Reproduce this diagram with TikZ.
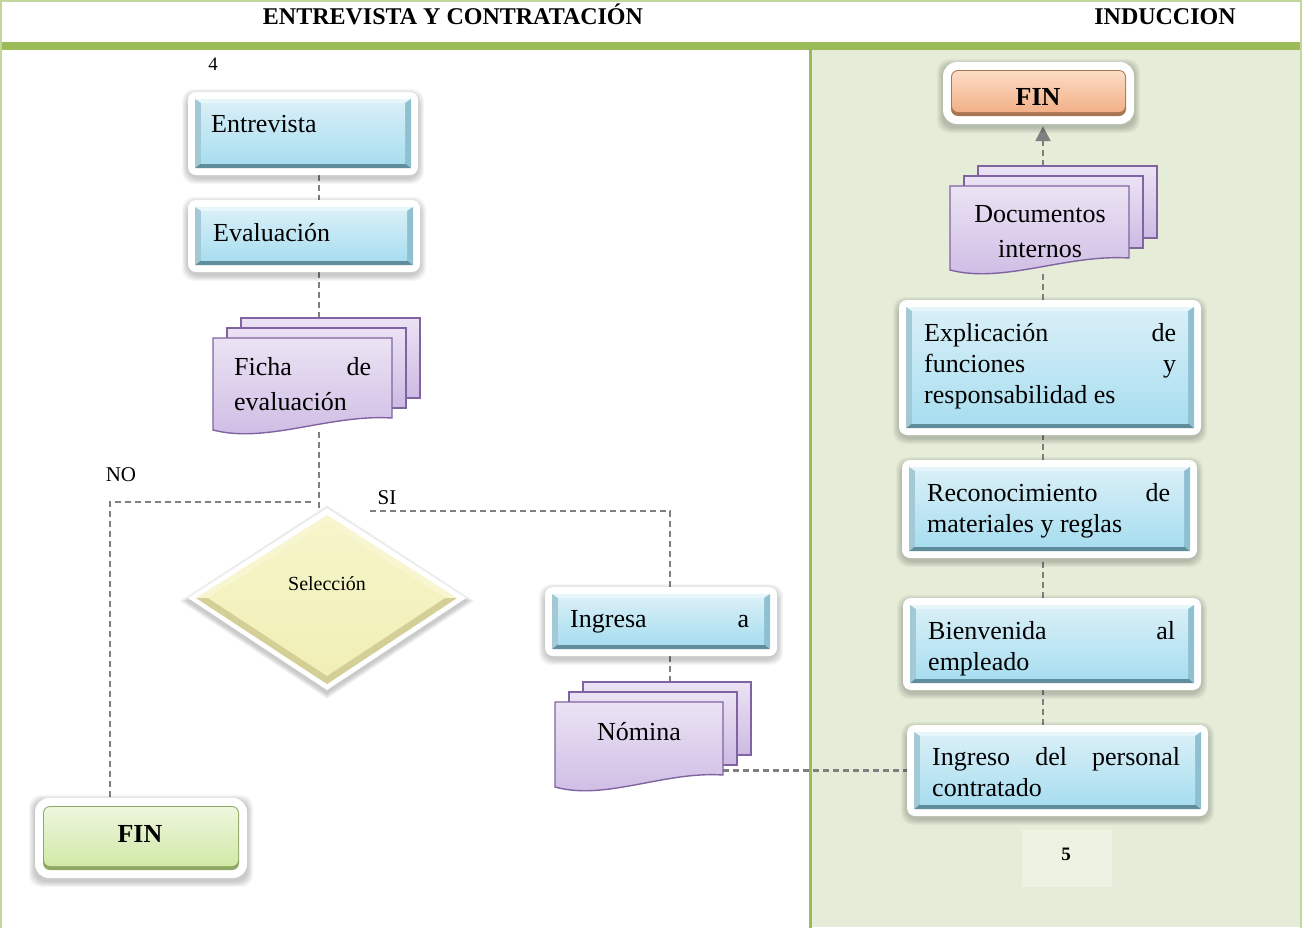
\documentclass[tikz,border=0pt]{standalone}
\usepackage{fontspec}
\setmainfont{Liberation Serif}
\usetikzlibrary{fit,arrows.meta,calc}

\pgfdeclarelayer{panel}
\pgfdeclarelayer{links}
\pgfsetlayers{panel,links,main}

% palette
\definecolor{hdrGreen}{HTML}{9BBB59}
\definecolor{rimGreen}{HTML}{C3D69B}
\definecolor{panelGreen}{HTML}{E5EDD8}
\definecolor{pageBox}{HTML}{EDF2E3}
\definecolor{linkGray}{HTML}{7F7F7F}
% blue process boxes (bevel + face)
\definecolor{bTop}{HTML}{E6F6FB}
\definecolor{bLeft}{HTML}{A3C8D6}
\definecolor{bRight}{HTML}{8FC0D2}
\definecolor{bBot}{HTML}{5F8D9C}
\definecolor{bFaceTop}{HTML}{D8EFF7}
\definecolor{bFaceBot}{HTML}{A8DEF0}
% documents
\definecolor{dTop}{HTML}{EBE3F4}
\definecolor{dBot}{HTML}{CDBAE3}
\definecolor{dLine}{HTML}{8064A2}
% decision
\definecolor{yLight}{HTML}{F8F6D0}
\definecolor{yEdge}{HTML}{D3CF96}
\definecolor{yTop}{HTML}{F6F5CA}
\definecolor{yBot}{HTML}{F1EFB6}
% end terminals
\definecolor{gTop}{HTML}{EDF6DD}
\definecolor{gBot}{HTML}{D2E9A7}
\definecolor{gEdge}{HTML}{8FA866}
\definecolor{oTop}{HTML}{FCDCC4}
\definecolor{oBot}{HTML}{F2B088}
\definecolor{oEdge}{HTML}{A87552}

\newcommand\boxfont{\fontsize{26}{31}\selectfont}

% soft glow under a rounded frame: x1 y1 x2 y2
\newcommand\softglow[4]{%
  \foreach \s in {1,...,6}{%
    \fill[black, opacity=0.035, rounded corners=12] (#1-\s,#2-\s+3) rectangle (#3+\s,#4+\s+3);
  }%
}

% bevelled process box: name, frame corners x1 y1 x2 y2
\newcommand\procbox[5]{%
  \softglow{#2}{#3}{#4}{#5}%
  \node[frame, fit={(#2,#3) (#4,#5)}] (#1) {};
  \fill[bTop]   (#2+7,#3+7) -- (#4-7,#3+7) -- (#4-13,#3+11) -- (#2+13,#3+11) -- cycle;
  \fill[bBot]   (#2+7,#5-7) -- (#4-7,#5-7) -- (#4-13,#5-12) -- (#2+13,#5-12) -- cycle;
  \fill[bLeft]  (#2+7,#3+7) -- (#2+13,#3+11) -- (#2+13,#5-12) -- (#2+7,#5-7) -- cycle;
  \fill[bRight] (#4-7,#3+7) -- (#4-13,#3+11) -- (#4-13,#5-12) -- (#4-7,#5-7) -- cycle;
  \shade[top color=bFaceTop, bottom color=bFaceBot] (#2+13,#3+11) rectangle (#4-13,#5-12);
}

% rounded terminal: name, frame corners, colour prefix
\newcommand\pillbox[6]{%
  \softglow{#2}{#3}{#4}{#5}%
  \node[frame, rounded corners=14, fit={(#2,#3) (#4,#5)}] (#1) {};
  \fill[#6Edge, rounded corners=7] (#2+8,#3+8) rectangle (#4-8,#5-8);
  \shade[top color=#6Top, bottom color=#6Bot, rounded corners=6] (#2+9,#3+9) rectangle (#4-9,#5-12);
}

% stack of three documents: name, front top-left x y, width, height
\newcommand\docstack[5]{%
  \draw[docsheet] (#2+28,#3-20) rectangle ++(#4,#5);
  \draw[docsheet] (#2+14,#3-10) rectangle ++(#4,#5);
  \draw[docsheet] (#2,#3) -- (#2+#4,#3) -- (#2+#4,#3+#5)
     .. controls (#2+0.65*#4,#3+#5-4) and (#2+0.3*#4,#3+#5+26) .. (#2,#3+#5+12) -- cycle;
  \node[fit={(#2,#3) (#2+#4,#3+#5)}, inner sep=0] (#1F) {};
  \node[fit={(#2,#3-20) (#2+#4+28,#3+#5+14)}, inner sep=0] (#1) {};
}

\begin{document}
\begin{tikzpicture}[x=1pt,y=-1pt,
  frame/.style={fill=white, draw=none, inner sep=0, rounded corners=8},
  docsheet/.style={draw=dLine, line width=1.4pt, top color=dTop, bottom color=dBot},
  link/.style={draw=linkGray, line width=2.4pt, dash pattern=on 6pt off 4pt},
  txt/.style={inner sep=0, font=\boxfont, anchor=base west},
  ctxt/.style={inner sep=0, font=\boxfont, anchor=base},
  head/.style={inner sep=0, font=\fontsize{24}{28}\selectfont\bfseries, anchor=base},
  small/.style={inner sep=0, font=\fontsize{21}{24}\selectfont, anchor=base}]
\useasboundingbox (0,0) rectangle (1302,927);

% lanes and header
\begin{pgfonlayer}{panel}
  \fill[white] (0,0) rectangle (1302,927);
  \fill[panelGreen] (811,50) rectangle (1300,927);
  \fill[hdrGreen] (2,42) rectangle (1300,50);
  \draw[rimGreen, line width=2pt] (1,930) -- (1,1) -- (1301,1) -- (1301,930);
  \draw[hdrGreen, line width=3pt] (810,50) -- (810,930);
  \fill[pageBox] (1022,830) rectangle (1112,887);
\end{pgfonlayer}

\node[head] (h1) at (453,24) {ENTREVISTA Y CONTRATACIÓN};
\node[head] (h2) at (1165,24) {INDUCCION};
\node[small, font=\fontsize{19}{22}\selectfont] (p4) at (213,70) {4};
\node[small, font=\fontsize{19}{22}\selectfont\bfseries] (p5) at (1066,860) {5};

% left lane
\procbox{entrevista}{188}{92}{418}{175}
\node[txt] (t1) at (211,132) {Entrevista};

\procbox{evaluacion}{188}{200}{420}{272}
\node[txt] (t2) at (213,241) {Evaluación};

\docstack{ficha}{213}{338}{179}{80}
\node[txt] (t3a) at (234,375) {\makebox[137pt][s]{Ficha de}};
\node[txt] (t3b) at (234,410) {evaluación};

% decision
\node[fit={(188,508) (466,690)}, inner sep=0] (seleccion) {};
\foreach \s in {1,...,6}{%
  \fill[black, opacity=0.035] (188-1.4*\s,601) -- (327,508-\s+3) -- (466+1.4*\s,601) -- (327,690+\s+3) -- cycle;
}
\fill[white] (188,598) -- (327,508) -- (466,598) -- (327,690) -- cycle;
\fill[yLight] (196,598) -- (327,515) -- (457,598) -- (327,684) -- cycle;
\fill[yEdge] (196,598) -- (457,598) -- (327,684) -- cycle;
\shade[top color=yTop, bottom color=yBot] (208,598) -- (327,522) -- (445,598) -- (327,676) -- cycle;
\node[small, font=\fontsize{20}{24}\selectfont] (t4) at (327,590) {Selección};

\node[small] (lno) at (121,481) {NO};
\node[small] (lsi) at (387,504) {SI};

\pillbox{finL}{35}{798}{247}{878}{g}
\node[ctxt, font=\fontsize{26}{31}\selectfont\bfseries] (t5) at (140,842) {FIN};

\procbox{ingresa}{545}{587}{777}{656}
\node[txt] (t6) at (570,627) {\makebox[179pt][s]{Ingresa a}};

\docstack{nomina}{555}{702}{168}{73}
\node[ctxt] (t7) at (639,740) {Nómina};

% right lane
\pillbox{finR}{943}{62}{1134}{124}{o}
\node[ctxt, font=\fontsize{26}{31}\selectfont\bfseries] (t8) at (1038,105) {FIN};

\docstack{documentos}{950}{186}{179}{72}
\node[ctxt] (t9a) at (1040,222) {Documentos};
\node[ctxt] (t9b) at (1040,257) {internos};

\procbox{explicacion}{899}{300}{1201}{435}
\node[txt] (t10a) at (924,341) {\makebox[252pt][s]{Explicación de}};
\node[txt] (t10b) at (924,372) {\makebox[252pt][s]{funciones y}};
\node[txt] (t10c) at (924,403) {responsabilidad es};

\procbox{reconocimiento}{902}{460}{1197}{558}
\node[txt] (t11a) at (927,501) {\makebox[243pt][s]{Reconocimiento de}};
\node[txt] (t11b) at (927,532) {materiales y reglas};

\procbox{bienvenida}{903}{598}{1201}{690}
\node[txt] (t12a) at (928,639) {\makebox[247pt][s]{Bienvenida al}};
\node[txt] (t12b) at (928,670) {empleado};

\procbox{ingreso}{907}{725}{1208}{816}
\node[txt] (t13a) at (932,765) {\makebox[248pt][s]{Ingreso del personal}};
\node[txt] (t13b) at (932,796) {contratado};

% connectors
\coordinate (spineL) at (319,0);
\coordinate (spineS) at (670,0);
\coordinate (spineR) at (1043,0);
\coordinate (nojoin) at (311,502);
\coordinate (nocorner) at (110,502);
\coordinate (sijoin) at (370,511);
\coordinate (sicorner) at (670,511);

\begin{pgfonlayer}{links}
  \draw[link] (entrevista.south -| spineL) -- (evaluacion.north -| spineL);
  \draw[link] (evaluacion.south -| spineL) -- (ficha.north -| spineL);
  \draw[link] (ficha.south -| spineL) -- (seleccion.north -| spineL);
  \draw[link] (nojoin) -- (nocorner) -- (nocorner |- finL.north);
  \draw[link] (sijoin) -- (sicorner) -- (sicorner |- ingresa.north);
  \draw[link] (ingresa.south -| spineS) -- (nomina.north -| spineS);
  \draw[link] (ingreso.west -| nominaF.east) -- (ingreso.west);
  \draw[link, -{Triangle[length=15pt,width=15pt]}] (documentos.north -| spineR) -- ([yshift=-2pt]finR.south -| spineR);
  \draw[link] (explicacion.north -| spineR) -- (documentos.south -| spineR);
  \draw[link] (reconocimiento.north -| spineR) -- (explicacion.south -| spineR);
  \draw[link] (bienvenida.north -| spineR) -- (reconocimiento.south -| spineR);
  \draw[link] (ingreso.north -| spineR) -- (bienvenida.south -| spineR);
\end{pgfonlayer}
\end{tikzpicture}
\end{document}
